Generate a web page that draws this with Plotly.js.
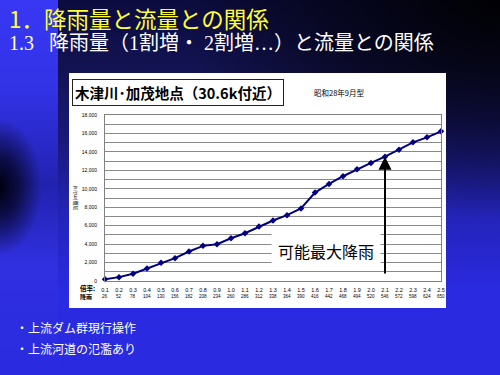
<!DOCTYPE html>
<html><head><meta charset="utf-8">
<script src="https://cdn.plot.ly/plotly-3.0.1.min.js"></script>
<style>
html,body{margin:0;padding:0;width:500px;height:375px;overflow:hidden;background:#2a2ae0;}
#main{position:absolute;left:0;top:0;width:500px;height:375px;
 background:
  radial-gradient(ellipse 320px 220px at 500px 0px, rgba(0,0,0,0.95) 0%, rgba(0,0,0,0.5) 55%, rgba(0,0,0,0) 100%),
  linear-gradient(to bottom, #0c0c40 0px, #131352 70px, #1a1a82 150px, #2424bc 220px, #2a2ae0 290px, #2a2ae0 375px);}
#strip{position:absolute;left:0;top:0;width:58px;height:375px;
 background:
  radial-gradient(ellipse 42px 68px at 0px 187px, rgba(0,0,16,1) 0%, rgba(0,0,16,0.65) 45%, rgba(0,0,0,0) 100%),
  linear-gradient(to bottom, #3838f4 0px, #3232e6 90px, #2222b0 185px, #3030e0 265px, #2a2ae0 375px);}
#chart{position:absolute;left:0;top:0;width:500px;height:375px;}
</style></head>
<body><div id="main"></div><div id="strip"></div><div id="chart"></div>
<script>
// ---- data ----
const ratios = [0.1,0.2,0.3,0.4,0.5,0.6,0.7,0.8,0.9,1.0,1.1,1.2,1.3,1.4,1.5,1.6,1.7,1.8,1.9,2.0,2.1,2.2,2.3,2.4,2.5];
const ratioLabels = ['0.1','0.2','0.3','0.4','0.5','0.6','0.7','0.8','0.9','1.0','1.1','1.2','1.3','1.4','1.5','1.6','1.7','1.8','1.9','2.0','2.1','2.2','2.3','2.4','2.5'];
const rainfall = ['26','52','78','104','130','156','182','208','234','260','286','312','338','364','390','416','442','468','494','520','546','572','598','624','650'];
const flow = [200,420,790,1360,1970,2480,3200,3810,3990,4640,5180,5900,6560,7140,7860,9590,10530,11360,12120,12800,13480,14240,15040,15580,16230];
const yTickVals = [0,1000,2000,3000,4000,5000,6000,7000,8000,9000,10000,11000,12000,13000,14000,15000,16000,17000,18000];
const yTickText = ['0','','2,000','','4,000','','6,000','','8,000','','10,000','','12,000','','14,000','','16,000','','18,000'];
const pmpRatio = 2.1;
const pmpFlow = 13480;

// ---- layout helpers (pixel -> paper) ----
const L = 105, R = 441, T = 115, B = 281;
const px = v => (v - L) / (R - L);
const py = v => (B - v) / (B - T);
const jp = '"Noto Sans CJK JP", sans-serif';

const annotations = [];
// rainfall row
rainfall.forEach((t, i) => annotations.push({
  x: ratios[i], xref: 'x', y: py(296), yref: 'paper', text: t, showarrow: false,
  xanchor: 'center', yanchor: 'middle', font: {size: 4.5, color: '#000', family: 'Arial, sans-serif'}
}));
annotations.push(
  {x: px(97), y: py(288), xref: 'paper', yref: 'paper', text: '<b>倍率:</b>', showarrow: false,
   xanchor: 'right', yanchor: 'middle', font: {size: 6.5, color: '#000', family: jp}},
  {x: px(94), y: py(296), xref: 'paper', yref: 'paper', text: '<b>降雨</b>', showarrow: false,
   xanchor: 'right', yanchor: 'middle', font: {size: 6, color: '#000', family: jp}},
  // boxed chart title
  {x: px(72), y: py(92.5), xref: 'paper', yref: 'paper', text: '<b>木津川･加茂地点（30.6k付近）</b>',
   showarrow: false, xanchor: 'left', yanchor: 'middle', bgcolor: '#fff', bordercolor: '#222', borderwidth: 1,
   borderpad: 2, font: {size: 14.5, color: '#000', family: jp}},
  {x: px(312), y: py(92), xref: 'paper', yref: 'paper', text: '昭和28年9月型', showarrow: false,
   xanchor: 'left', yanchor: 'middle', font: {size: 7.5, color: '#000', family: jp}},
  // PMP label
  {x: px(326), y: py(251), xref: 'paper', yref: 'paper', text: '可能最大降雨', showarrow: false,
   xanchor: 'center', yanchor: 'middle', bgcolor: '#fff', borderpad: 6,
   font: {size: 16, color: '#000', family: jp}},
  // arrow
  {x: pmpRatio, y: pmpFlow, xref: 'x', yref: 'y', ax: pmpRatio, ay: 650, axref: 'x', ayref: 'y',
   text: '', showarrow: true, arrowhead: 2, arrowsize: 1.3, arrowwidth: 2, arrowcolor: '#000'},
  // header line 1
  {x: px(7), y: py(18), xref: 'paper', yref: 'paper', showarrow: false, xanchor: 'left', yanchor: 'middle',
   text: '1．降雨量と流量との関係', font: {size: 22.5, color: '#ffff38', family: jp}},
  // header line 2
  {x: px(7), y: py(43), xref: 'paper', yref: 'paper', showarrow: false, xanchor: 'left', yanchor: 'middle',
   text: '1.3\u00a0\u00a0\u00a0降雨量（1割増・ 2割増…）と流量との関係',
   font: {size: 20, color: '#fff', family: '"Liberation Serif", "Noto Sans CJK JP", serif'}},
  // bullets
  {x: px(14), y: py(327), xref: 'paper', yref: 'paper', showarrow: false, xanchor: 'left', yanchor: 'middle',
   text: '・上流ダム群現行操作', font: {size: 12, color: '#fff', family: jp}},
  {x: px(14), y: py(348), xref: 'paper', yref: 'paper', showarrow: false, xanchor: 'left', yanchor: 'middle',
   text: '・上流河道の氾濫あり', font: {size: 12, color: '#fff', family: jp}}
);

const trace = {
  x: ratios, y: flow, type: 'scatter', mode: 'lines+markers', cliponaxis: false,
  line: {color: '#000080', width: 2},
  marker: {symbol: 'diamond', size: 5, color: '#000080'},
  hoverinfo: 'skip'
};

const layout = {
  width: 500, height: 375,
  margin: {l: L, r: 500 - R, t: T, b: 375 - B, pad: 0},
  paper_bgcolor: 'rgba(0,0,0,0)', plot_bgcolor: '#fff',
  showlegend: false,
  xaxis: {range: [0.1, 2.5], tickmode: 'array', tickvals: ratios, ticktext: ratioLabels,
          showgrid: false, zeroline: false, showline: true, mirror: true, linecolor: '#808080', linewidth: 1,
          ticks: '', ticklabelstandoff: 3, automargin: false,
          tickfont: {size: 5.5, color: '#000', family: 'Arial, sans-serif'}},
  yaxis: {range: [0, 18000], tickmode: 'array', tickvals: yTickVals, ticktext: yTickText,
          showgrid: true, gridcolor: '#8a8a8a', gridwidth: 1, zeroline: false,
          showline: true, mirror: true, linecolor: '#808080', linewidth: 1,
          ticks: '', ticklabelstandoff: 6, automargin: false,
          tickfont: {size: 5, color: '#000', family: 'Arial, sans-serif'},
          title: {text: '流量(m3/s)', standoff: 3, font: {size: 5, color: '#000', family: jp}}},
  shapes: [{type: 'rect', xref: 'paper', yref: 'paper', layer: 'below',
            x0: px(69), x1: px(446), y0: py(308), y1: py(73),
            fillcolor: '#fff', line: {width: 0}}],
  annotations: annotations
};

Plotly.newPlot('chart', [trace], layout, {displayModeBar: false, staticPlot: true});
</script>
</body></html>
